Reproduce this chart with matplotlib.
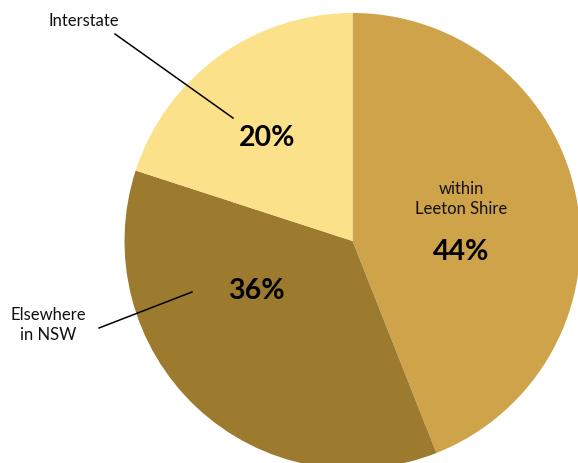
import matplotlib
matplotlib.use("Agg")
import matplotlib.pyplot as plt

# share of visitors by origin
labels = ["within\nLeeton Shire", "Elsewhere\nin NSW", "Interstate"]
shares = [44, 36, 20]
colors = ["#CFA34A", "#9C7A2E", "#FCE18B"]

W, H = 578, 463
fig = plt.figure(figsize=(W / 100, H / 100), dpi=100)
ax = fig.add_axes([0, 0, 1, 1])

cx, cy, r = 352.5, H - 241, 228
ax.pie(shares, colors=colors, startangle=90, counterclock=False,
       center=(cx, cy), radius=r, frame=True,
       wedgeprops=dict(linewidth=0))
ax.set_xlim(0, W)
ax.set_ylim(0, H)
ax.set_aspect("equal")
ax.axis("off")

font = "Lato"

# percentage labels
pct_pos = [(461, 252), (256, 291), (267, 138)]
for v, (x, y) in zip(shares, pct_pos):
    ax.text(x, H - y, f"{v}%", ha="center", va="center",
            fontsize=20.5, fontweight="bold", family=font, color="black")

# category labels
ax.text(461, H - 199, labels[0], ha="center", va="center",
        fontsize=12, family=font, linespacing=1.3, color="#111111")
ax.text(48, H - 325, labels[1], ha="center", va="center",
        fontsize=12, family=font, linespacing=1.3, color="#111111")
ax.text(84, H - 21, labels[2], ha="center", va="center",
        fontsize=12, family=font, color="#111111")

# leader lines
ax.plot([115, 233], [H - 34, H - 118], color="black", lw=1.1)
ax.plot([99, 192], [H - 328, H - 292], color="black", lw=1.1)

fig.savefig("out.png", dpi=100)
